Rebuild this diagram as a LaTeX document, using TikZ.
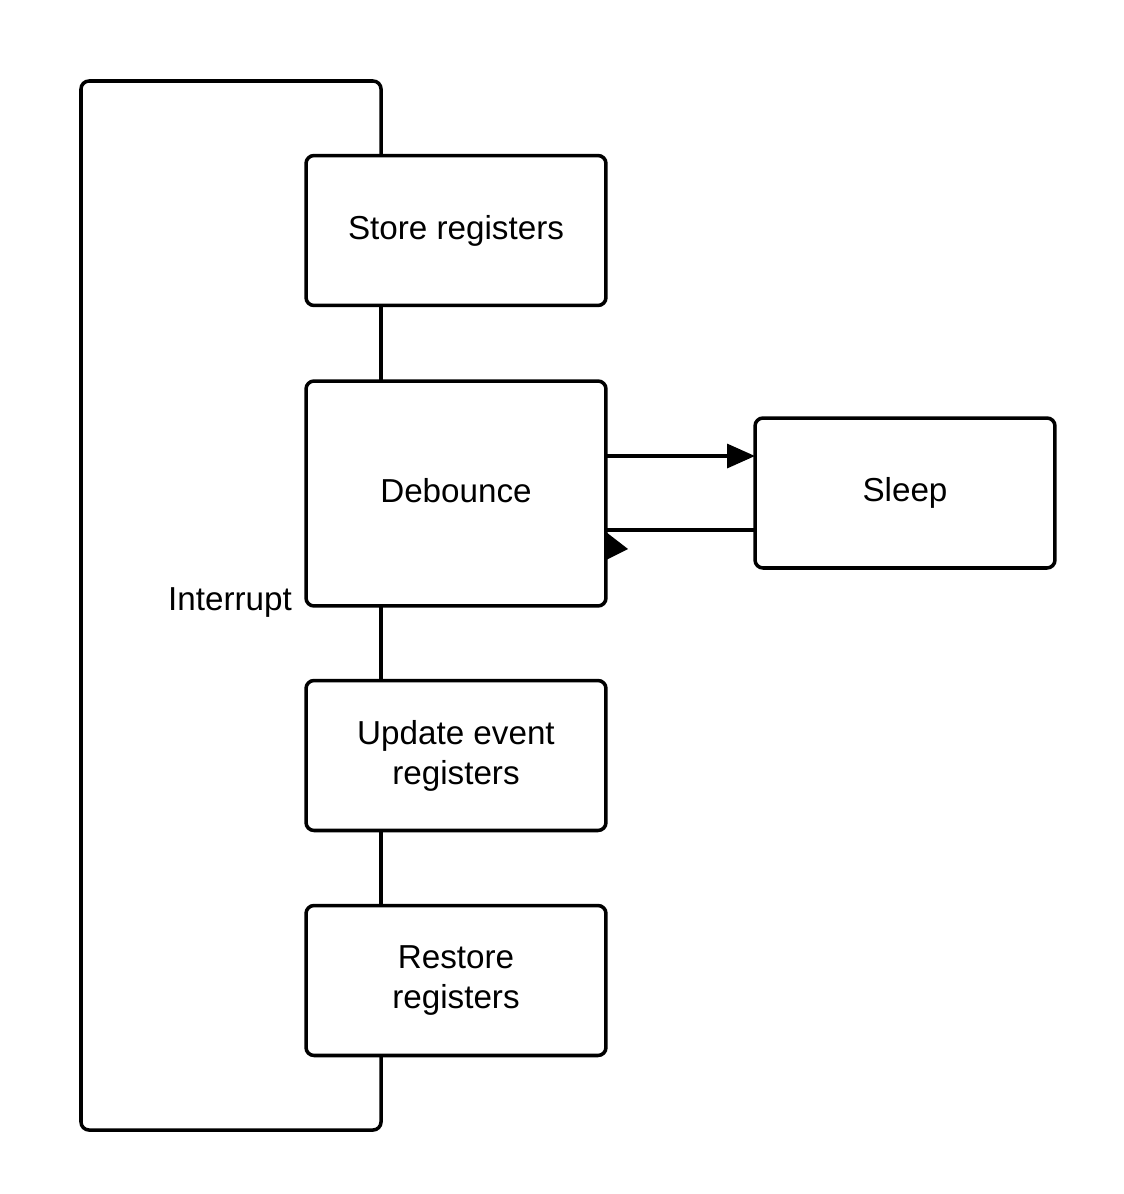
\documentclass[tikz,border=0pt]{standalone}
\usepackage{fontspec}
\setmainfont{Liberation Sans}
\usetikzlibrary{arrows.meta}

\begin{document}
\begin{tikzpicture}[x=0.02cm, y=-0.02cm]
    \tikzset{block/.style = {shape=rectangle, draw, line width=2pt, rounded corners=0.16cm,
        minimum width=6cm, minimum height=3cm, outer sep=0pt, align=center,
        font=\fontsize{18.9}{22.7}\selectfont}}
    \tikzset{edge/.style = {draw, line width=2pt}}
    \tikzset{flow/.style = {edge, -{Triangle[length=15.9pt, width=13.6pt]}}}

    \useasboundingbox (0,0) rectangle (1123,1194);

    % vertices
    \node[block] (store) at (456,230.5) {Store registers};
    \node[block, minimum height=4.5cm, text depth=0.12cm] (debounce) at (456,493.5) {Debounce};
    \node[block] (sleep) at (905,493) {Sleep};
    \node[block] (update) at (456,755.5) {Update event\\registers};
    \node[block] (restore) at (456,980.5) {Restore\\registers};
    \node[font=\fontsize{18.9}{22.7}\selectfont] (irq) at (230,603) {Interrupt};
    \coordinate (top) at (81,81);
    \coordinate (bot) at (81,1130);

    % edges
    \draw[edge, rounded corners=0.16cm] ([xshift=-1.5cm]store.north) |- (top) -- (bot) -| ([xshift=-1.5cm]restore.south);
    \draw[edge] ([xshift=-1.5cm]store.south) -- ([xshift=-1.5cm]debounce.north);
    \draw[edge] ([xshift=-1.5cm]debounce.south) -- ([xshift=-1.5cm]update.north);
    \draw[edge] ([xshift=-1.5cm]update.south) -- ([xshift=-1.5cm]restore.north);
    \draw[flow] ([yshift=0.75cm]debounce.east) -- ([yshift=0.75cm]debounce.east -| sleep.west);
    \draw[edge] ([yshift=-0.73cm]debounce.east -| sleep.west) -- ([yshift=-0.73cm]debounce.east);
    \fill (606,532) -- (628,549) -- (606,560) -- cycle;
\end{tikzpicture}
\end{document}
